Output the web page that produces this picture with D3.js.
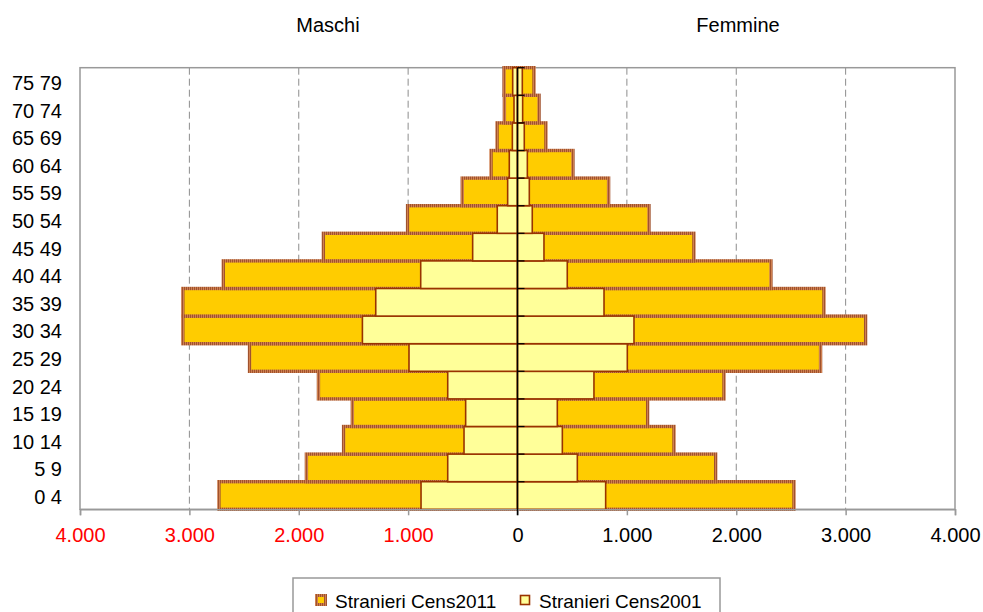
<!DOCTYPE html>
<html lang="it">
<head>
  <meta charset="UTF-8">
  <title>Stranieri per età</title>
  <style>
    body { margin: 0; padding: 0; background: #fff; }
    svg { display: block; font-family: "Liberation Sans", Arial, sans-serif; }
  </style>
</head>
<body>
  <div id="chart"></div>
  <script src="https://cdnjs.cloudflare.com/ajax/libs/d3/7.8.5/d3.min.js"></script>
  <script>
    'use strict';

    // age classes, bottom to top
    const ages = ['0 4', '5 9', '10 14', '15 19', '20 24', '25 29', '30 34', '35 39',
      '40 44', '45 49', '50 54', '55 59', '60 64', '65 69', '70 74', '75 79'];

    const maschi2011 = [2730, 1930, 1590, 1510, 1820, 2450, 3060, 3060,
      2690, 1775, 1005, 505, 242, 187, 120, 123];
    const maschi2001 = [882, 638, 489, 474, 638, 992, 1418, 1296,
      885, 410, 185, 90, 75, 47, 32, 44];
    const femmine2011 = [2528, 1812, 1431, 1190, 1888, 2771, 3183, 2802,
      2317, 1613, 1202, 833, 507, 260, 197, 151];
    const femmine2001 = [806, 547, 410, 364, 699, 1004, 1065, 791,
      455, 242, 135, 108, 90, 62, 47, 44];

    const xTicks = [-4000, -3000, -2000, -1000, 0, 1000, 2000, 3000, 4000];
    const gridTicks = [-3000, -2000, -1000, 1000, 2000, 3000];
    const seriesNames = ['Stranieri Cens2011', 'Stranieri Cens2001'];

    const W = 983, H = 612;
    const plot = { left: 80, right: 955, top: 67.7, bottom: 509.3 };
    const fs = 20;

    const svg = d3.select('#chart').append('svg')
      .attr('width', W).attr('height', H);

    // hatched brown border used by the 2011 bars
    const defs = svg.append('defs');
    const pat = defs.append('pattern')
      .attr('id', 'hatch')
      .attr('patternUnits', 'userSpaceOnUse')
      .attr('width', 2).attr('height', 2);
    pat.append('rect').attr('width', 2).attr('height', 2).attr('fill', '#CF8050');
    pat.append('rect').attr('width', 1).attr('height', 2).attr('fill', '#A0522D');

    const x = d3.scaleLinear().domain([-4000, 4000]).range([plot.left, plot.right]);
    const y = d3.scaleBand().domain(ages).range([plot.bottom, plot.top]).padding(0);

    const it = d3.formatLocale({ decimal: ',', thousands: '.', grouping: [3], currency: ['', ''] });
    const fmt = it.format(',');

    // grid
    svg.append('g').selectAll('line')
      .data(gridTicks)
      .join('line')
      .attr('x1', d => x(d)).attr('x2', d => x(d))
      .attr('y1', plot.top).attr('y2', plot.bottom)
      .attr('stroke', '#8c8c8c')
      .attr('stroke-width', 1)
      .attr('stroke-dasharray', '7,4');

    // plot frame
    svg.append('rect')
      .attr('x', plot.left).attr('y', plot.top)
      .attr('width', plot.right - plot.left)
      .attr('height', plot.bottom - plot.top)
      .attr('fill', 'none')
      .attr('stroke', '#999')
      .attr('stroke-width', 1.5);

    function drawBars(values, sign, cls, fill, stroke, sw) {
      svg.append('g').attr('class', cls)
        .selectAll('rect')
        .data(values)
        .join('rect')
        .attr('x', d => sign < 0 ? x(-d) : x(0))
        .attr('width', d => x(d) - x(0))
        .attr('y', (d, i) => y(ages[i]))
        .attr('height', y.bandwidth())
        .attr('fill', fill)
        .attr('stroke', stroke)
        .attr('stroke-width', sw);
    }

    drawBars(maschi2011, -1, 'm2011', '#FFCC00', 'url(#hatch)', 3.4);
    drawBars(femmine2011, 1, 'f2011', '#FFCC00', 'url(#hatch)', 3.4);
    drawBars(maschi2001, -1, 'm2001', '#FFFF99', '#993300', 1.6);
    drawBars(femmine2001, 1, 'f2001', '#FFFF99', '#993300', 1.6);

    // bottom axis
    const xAxis = d3.axisBottom(x).tickValues(xTicks).tickSize(6).tickPadding(13)
      .tickFormat(d => fmt(Math.abs(d)));
    const gx = svg.append('g')
      .attr('transform', `translate(0,${plot.bottom})`)
      .call(xAxis);
    gx.select('.domain').attr('stroke', '#999').attr('stroke-width', 1.5);
    gx.selectAll('.tick line').attr('stroke', '#999').attr('stroke-width', 1.5);
    gx.selectAll('.tick text')
      .attr('font-size', fs)
      .attr('font-family', '"Liberation Sans", Arial, sans-serif')
      .attr('fill', d => d < 0 ? '#FF0000' : '#000');

    // central axis with ticks
    const c = svg.append('g');
    c.append('line')
      .attr('x1', x(0)).attr('x2', x(0))
      .attr('y1', plot.top).attr('y2', plot.bottom + 6)
      .attr('stroke', '#000').attr('stroke-width', 1.5);
    c.selectAll('.ct')
      .data(ages)
      .join('line')
      .attr('class', 'ct')
      .attr('x1', x(0)).attr('x2', x(0) + 7)
      .attr('y1', d => y(d)).attr('y2', d => y(d))
      .attr('stroke', '#000').attr('stroke-width', 1.2);

    // category labels
    svg.append('g').selectAll('text')
      .data(ages)
      .join('text')
      .attr('x', 62)
      .attr('y', d => y(d) + y.bandwidth() / 2 + 8.5)
      .attr('text-anchor', 'end')
      .attr('font-size', fs)
      .attr('fill', '#000')
      .text(d => d);

    // side titles
    svg.append('text').attr('x', 328).attr('y', 31.5)
      .attr('text-anchor', 'middle').attr('font-size', fs).text('Maschi');
    svg.append('text').attr('x', 738).attr('y', 31.5)
      .attr('text-anchor', 'middle').attr('font-size', fs).text('Femmine');

    // legend
    const lg = svg.append('g');
    lg.append('rect')
      .attr('x', 293).attr('y', 578)
      .attr('width', 427).attr('height', 40)
      .attr('fill', '#fff').attr('stroke', '#999').attr('stroke-width', 1.5);
    const items = [
      { name: seriesNames[0], x: 315, fill: '#FFCC00', stroke: 'url(#hatch)', sw: 3 },
      { name: seriesNames[1], x: 519, fill: '#FFFF99', stroke: '#993300', sw: 1.6 }
    ];
    items.forEach(d => {
      lg.append('rect')
        .attr('x', d.x + 1.5).attr('y', 595.5)
        .attr('width', 9).attr('height', 9)
        .attr('fill', d.fill).attr('stroke', d.stroke).attr('stroke-width', d.sw);
      lg.append('text')
        .attr('x', d.x + 20).attr('y', 607.5)
        .attr('font-size', 19)
        .attr('fill', '#000')
        .text(d.name);
    });
  </script>
</body>
</html>
